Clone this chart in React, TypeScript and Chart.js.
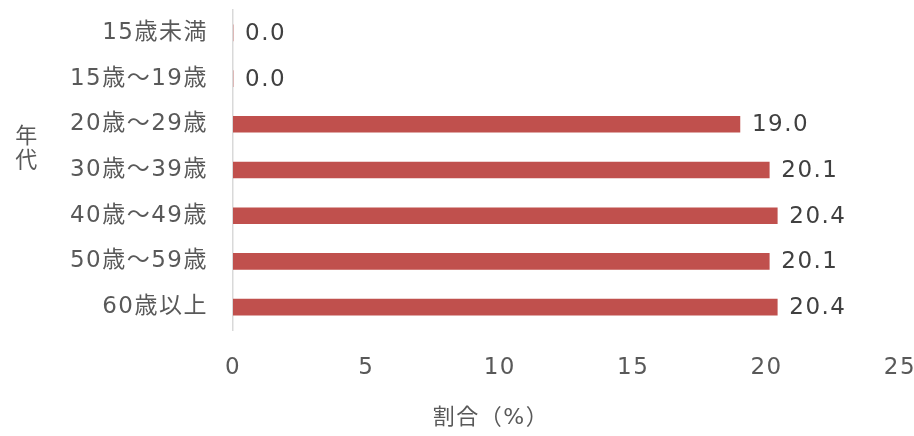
import React, { useEffect, useRef } from "react";
import { Chart, registerables } from "chart.js";

Chart.register(...registerables);

const categories = ["15歳未満", "15歳～19歳", "20歳～29歳", "30歳～39歳", "40歳～49歳", "50歳～59歳", "60歳以上"];
const values = [0.0, 0.0, 19.0, 20.1, 20.4, 20.1, 20.4];
const xMin = 0;
const xMax = 25;
const xStep = 5;
const xTitle = "割合（%）";
const yTitle = ["年", "代"];

const FONT = "'DejaVu Sans', 'Noto Sans CJK JP', sans-serif";
const SPACING = "1.5px";

const spacingPlugin = {
  id: "spacing",
  beforeUpdate(chart: any) {
    chart.ctx.letterSpacing = SPACING;
  },
  beforeDraw(chart: any) {
    chart.ctx.letterSpacing = SPACING;
  },
};

const labelPlugin = {
  id: "valueLabels",
  afterDatasetsDraw(chart: any) {
    const ctx = chart.ctx;
    const meta = chart.getDatasetMeta(0);
    ctx.save();
    ctx.font = `23px ${FONT}`;
    ctx.fillStyle = "#404040";
    ctx.textAlign = "left";
    ctx.textBaseline = "middle";
    meta.data.forEach((el: any, i: number) => {
      ctx.fillText(values[i].toFixed(1), el.x + 12, el.y + 1);
    });
    ctx.restore();
  },
};

const titlePlugin = {
  id: "axisTitles",
  afterDraw(chart: any) {
    const ctx = chart.ctx;
    ctx.save();
    ctx.font = `22px ${FONT}`;
    ctx.fillStyle = "#595959";
    ctx.textAlign = "center";
    ctx.textBaseline = "middle";
    yTitle.forEach((ch, i) => ctx.fillText(ch, 27, 137 + i * 24));
    ctx.fillText(xTitle, 491, 418);
    ctx.restore();
  },
};

export default function App() {
  const ref = useRef<HTMLCanvasElement | null>(null);
  useEffect(() => {
    document.body.style.margin = "0";
    const chart = new Chart(ref.current as HTMLCanvasElement, {
      type: "bar",
      data: {
        labels: categories,
        datasets: [
          {
            data: values,
            backgroundColor: "#c0504d",
            barThickness: 16,
          },
        ],
      },
      options: {
        indexAxis: "y",
        animation: false,
        responsive: false,
        maintainAspectRatio: false,
        layout: { padding: { top: 10, left: 0, right: 0, bottom: 0 } },
        plugins: { legend: { display: false }, tooltip: { enabled: false } },
        scales: {
          x: {
            min: xMin,
            max: xMax,
            ticks: { stepSize: xStep, font: { size: 23, family: FONT }, color: "#595959", padding: 24 },
            grid: { display: false, drawTicks: false },
            border: { display: false },
            afterFit: (s: any) => {
              s.height = 106;
              s.paddingLeft = 0;
              s.paddingRight = 14;
            },
          },
          y: {
            ticks: { font: { size: 23, family: FONT }, color: "#595959", padding: 25 },
            grid: { display: false, drawTicks: false },
            border: { display: true, color: "#d9d9d9", width: 1.5 },
            afterFit: (s: any) => {
              s.width = 233;
              s.paddingTop = 0;
              s.paddingBottom = 0;
            },
          },
        },
      } as any,
      plugins: [spacingPlugin, labelPlugin, titlePlugin],
    });
    return () => chart.destroy();
  }, []);
  return <canvas ref={ref} width={914} height={436} style={{ display: "block" }} />;
}
